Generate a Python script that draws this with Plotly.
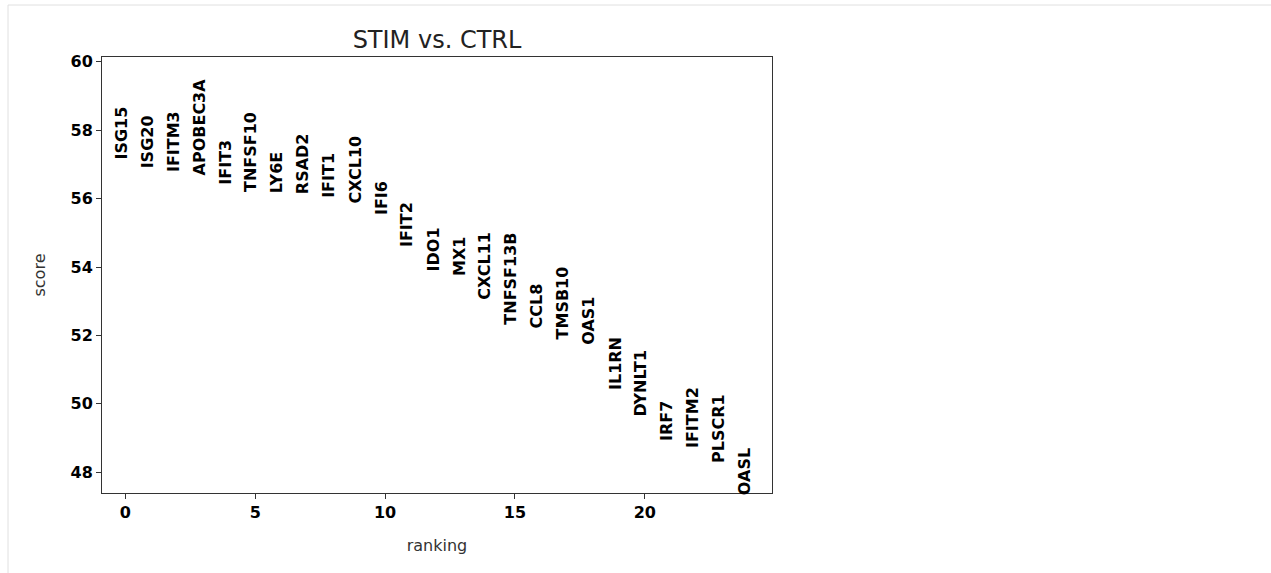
import plotly.graph_objects as go

genes = ["ISG15", "ISG20", "IFITM3", "APOBEC3A", "IFIT3", "TNFSF10", "LY6E", "RSAD2",
         "IFIT1", "CXCL10", "IFI6", "IFIT2", "IDO1", "MX1", "CXCL11", "TNFSF13B",
         "CCL8", "TMSB10", "OAS1", "IL1RN", "DYNLT1", "IRF7", "IFITM2", "PLSCR1", "OASL"]
scores = [57.20, 56.94, 56.83, 56.73, 56.46, 56.26, 56.21, 56.18, 56.07, 55.92,
          55.58, 54.63, 53.93, 53.81, 53.10, 52.37, 52.27, 51.95, 51.78, 50.47,
          49.69, 48.96, 48.77, 48.33, 47.39]
ranks = list(range(len(genes)))
title = "STIM vs. CTRL"
x_ticks = [0, 5, 10, 15, 20]
y_ticks = [48, 50, 52, 54, 56, 58, 60]

ymin = min(scores)
ymax = max(scores)
ymax = ymax + 0.3 * (ymax - ymin)

fig = go.Figure()
fig.add_trace(go.Scatter(x=ranks, y=scores, mode="markers",
                         marker=dict(opacity=0), hoverinfo="skip", showlegend=False))

for r, g, s in zip(ranks, genes, scores):
    fig.add_annotation(x=r, y=s, text=g, textangle=-90, showarrow=False,
                       xanchor="center", yanchor="bottom", borderpad=0,
                       xshift=-4, yshift=-3,
                       font=dict(family="DejaVu Sans", size=16, color="black", weight="bold"))

axis_common = dict(showline=True, linecolor="#333", linewidth=1, mirror=True,
                   ticks="outside", ticklen=5, tickcolor="#333", showgrid=False,
                   zeroline=False,
                   tickfont=dict(family="DejaVu Sans", size=16, color="black", weight="bold"))

fig.update_xaxes(range=[-0.9, len(genes) - 0.1], tickvals=x_ticks,
                 title=dict(text="ranking", font=dict(family="DejaVu Sans", size=16, color="#333"),
                            standoff=18),
                 **axis_common)
fig.update_yaxes(range=[ymin, ymax], tickvals=y_ticks,
                 title=dict(text="score", font=dict(family="DejaVu Sans", size=16, color="#333"),
                            standoff=20),
                 **axis_common)

W, H = 1271, 573
L, R, T, B = 102, 499, 57, 80
pw, ph = W - L - R, H - T - B

def px_x(p):
    return (p - L) / pw

def px_y(p):
    return (H - B - p) / ph

# notebook output frame
fig.add_shape(type="line", xref="paper", yref="paper", x0=px_x(8), x1=px_x(8),
              y0=px_y(5), y1=px_y(H), line=dict(color="#e0e0e0", width=1))
fig.add_shape(type="line", xref="paper", yref="paper", x0=px_x(8), x1=px_x(W),
              y0=px_y(5), y1=px_y(5), line=dict(color="#e0e0e0", width=1))

fig.update_layout(
    width=W, height=H,
    margin=dict(l=L, r=R, t=T, b=B, pad=0),
    paper_bgcolor="white", plot_bgcolor="white",
    title=dict(text=title, x=(437) / W, xanchor="center", y=1 - 40 / H, yanchor="middle",
               font=dict(family="DejaVu Sans", size=24, color="#222")),
)

fig.write_html("out.html")
